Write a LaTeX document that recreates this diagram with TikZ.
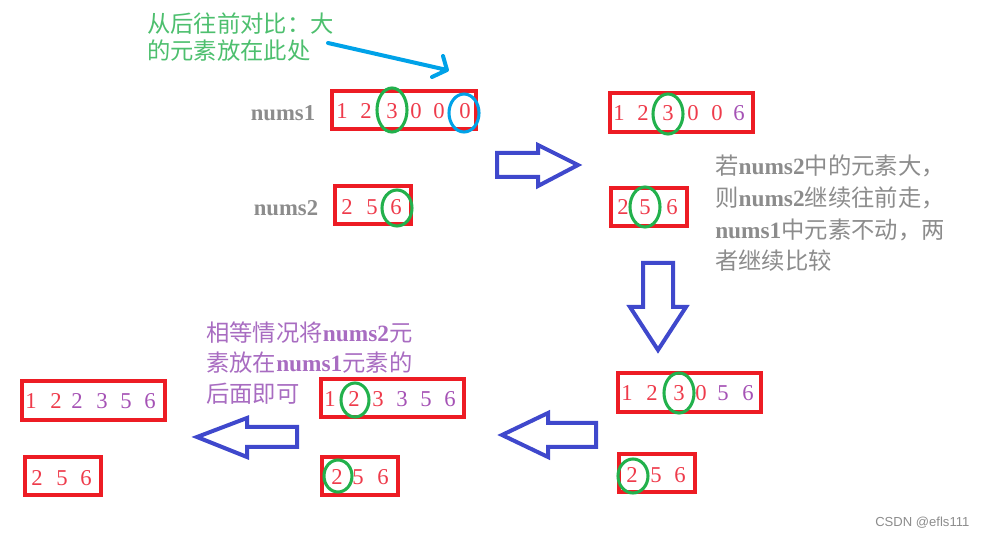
\documentclass[tikz,border=0pt]{standalone}
\usepackage{fontspec}
\setmainfont{Liberation Serif}
\newfontfamily\cjk{Noto Sans CJK SC}
\newfontfamily\wmfont{Liberation Sans}
\definecolor{boxred}{HTML}{ED1C24}
\definecolor{digred}{HTML}{EE3B4B}
\definecolor{digpur}{HTML}{A552B5}
\definecolor{ringgreen}{HTML}{22B14C}
\definecolor{ringblue}{HTML}{00A2E8}
\definecolor{arrblue}{HTML}{3F48CC}
\definecolor{txtgray}{HTML}{8C8C8C}
\definecolor{txtgreen}{HTML}{4DBF6E}
\definecolor{txtpur}{HTML}{A86CC1}
\tikzset{
  longbox/.style={draw=boxred, line width=3pt, minimum width=107.5pt, minimum height=29pt, inner sep=0pt},
  shortbox/.style={draw=boxred, line width=3pt, minimum width=57pt, minimum height=28.5pt, inner sep=0pt},
  dr/.style={text=digred, font=\fontsize{17}{18}\selectfont, inner sep=0pt},
  dp/.style={text=digpur, font=\fontsize{17}{18}\selectfont, inner sep=0pt},
  ring/.style={draw=ringgreen, line width=2.3pt},
  blockarrow/.style={draw=arrblue, line width=3pt, line join=miter},
  lbl/.style={text=txtgray, font=\fontsize{17}{18}\selectfont\bfseries, inner sep=0pt},
  ttl/.style={anchor=west, inner sep=0pt, font=\fontsize{17.5}{20}\selectfont},
}
\begin{document}
\begin{tikzpicture}[x=0.75pt, y=-0.75pt]
\useasboundingbox (0,0) rectangle (983,538);
% boxes
\node[longbox] (a1) at (404,110) {};
\node[shortbox] (a2) at (373,205.5) {};
\node[longbox] (b1) at (681.5,112.5) {};
\node[shortbox] (b2) at (648.5,207) {};
\node[longbox] (c1) at (689.5,392.5) {};
\node[shortbox] (c2) at (657,473) {};
\node[longbox] (d1) at (392.5,398) {};
\node[shortbox] (d2) at (359.5,476) {};
\node[longbox] (e1) at (93.5,400.5) {};
\node[shortbox] (e2) at (63,476.5) {};
% labels
\node[lbl] (l1) at (283,113) {nums1};
\node[lbl] (l2) at (286,208) {nums2};
% digits a1
\node[dr] (a11) at (342,111) {1};
\node[dr] (a12) at (366,111) {2};
\node[dr] (a13) at (392,111) {3};
\node[dr] (a14) at (416,111) {0};
\node[dr] (a15) at (439,111) {0};
\node[dr] (a16) at (465,111) {0};
% a2
\node[dr] (a21) at (347,207) {2};
\node[dr] (a22) at (372,207) {5};
\node[dr] (a23) at (396,207) {6};
% b1
\node[dr] (b11) at (619,113) {1};
\node[dr] (b12) at (643,113) {2};
\node[dr] (b13) at (668,113) {3};
\node[dr] (b14) at (693,113) {0};
\node[dr] (b15) at (717,113) {0};
\node[dp] (b16) at (739,113) {6};
% b2
\node[dr] (b21) at (623,207) {2};
\node[dr] (b22) at (645,207) {5};
\node[dr] (b23) at (672,207) {6};
% c1
\node[dr] (c11) at (627,393) {1};
\node[dr] (c12) at (652,393) {2};
\node[dr] (c13) at (679,393) {3};
\node[dr] (c14) at (701,393) {0};
\node[dp] (c15) at (723,393) {5};
\node[dp] (c16) at (748,393) {6};
% c2
\node[dr] (c21) at (632,475) {2};
\node[dr] (c22) at (656,475) {5};
\node[dr] (c23) at (680,475) {6};
% d1
\node[dr] (d11) at (330,399) {1};
\node[dr] (d12) at (354,399) {2};
\node[dr] (d13) at (378,399) {3};
\node[dp] (d14) at (402,399) {3};
\node[dp] (d15) at (426,399) {5};
\node[dp] (d16) at (450,399) {6};
% d2
\node[dr] (d21) at (337,477) {2};
\node[dr] (d22) at (358,477) {5};
\node[dr] (d23) at (383,477) {6};
% e1
\node[dr] (e11) at (31,401) {1};
\node[dr] (e12) at (56,401) {2};
\node[dp] (e13) at (77,401) {2};
\node[dp] (e14) at (102,401) {3};
\node[dp] (e15) at (126,401) {5};
\node[dp] (e16) at (150,401) {6};
% e2
\node[dr] (e21) at (37,478) {2};
\node[dr] (e22) at (62,478) {5};
\node[dr] (e23) at (86,478) {6};
% rings
\draw[ring] (392,110) ellipse [x radius=11.25pt, y radius=16.5pt];
\draw[ringblue, line width=2.3pt] (464,113) ellipse [x radius=11.25pt, y radius=14.25pt];
\draw[ring] (397,208) ellipse [x radius=11.25pt, y radius=13.5pt];
\draw[ring] (668,114) ellipse [x radius=11.25pt, y radius=15pt];
\draw[ring] (645,207) ellipse [x radius=11.25pt, y radius=15pt];
\draw[ring] (679,393) ellipse [x radius=11.25pt, y radius=15pt];
\draw[ring] (633,476) ellipse [x radius=11.25pt, y radius=12.75pt];
\draw[ring] (355,400) ellipse [x radius=10.5pt, y radius=12.75pt];
\draw[ring] (338,476) ellipse [x radius=10.5pt, y radius=12pt];
% block arrows
\draw[blockarrow] (497,153) -- (538,153) -- (538,145) -- (578,165) -- (538,186) -- (538,177) -- (497,177) -- cycle;
\draw[blockarrow] (643,263) -- (673,263) -- (673,307) -- (686,307) -- (658,350) -- (630,307) -- (643,307) -- cycle;
\draw[blockarrow] (596,423) -- (548,423) -- (548,413) -- (502,435) -- (548,457) -- (548,447) -- (596,447) -- cycle;
\draw[blockarrow] (297,427) -- (247,427) -- (247,418) -- (197,437) -- (247,457) -- (247,447) -- (297,447) -- cycle;
% green note with blue pointer
\node[ttl, text=txtgreen] (g1) at (147,24) {\cjk 从后往前对比：大};
\node[ttl, text=txtgreen] (g2) at (147,51) {\cjk 的元素放在此处};
\coordinate (ps) at (328,43);
\coordinate (pt) at (447,70);
\draw[ringblue, line width=3pt, line cap=round, line join=round] (ps) -- (pt) (443,56) -- (pt) -- (432,77);
% gray note
\node[ttl, text=txtgray] (t1) at (715,166) {{\cjk 若}\textbf{nums2}{\cjk 中的元素大，}};
\node[ttl, text=txtgray] (t2) at (715,198) {{\cjk 则}\textbf{nums2}{\cjk 继续往前走，}};
\node[ttl, text=txtgray] (t3) at (715,230) {\textbf{nums1}{\cjk 中元素不动，两}};
\node[ttl, text=txtgray] (t4) at (715,261) {\cjk 者继续比较};
% purple note
\node[ttl, text=txtpur] (p1) at (206,333) {{\cjk 相等情况将}\textbf{nums2}{\cjk 元}};
\node[ttl, text=txtpur] (p2) at (206,363) {{\cjk 素放在}\textbf{nums1}{\cjk 元素的}};
\node[ttl, text=txtpur] (p3) at (206,394) {\cjk 后面即可};
% watermark
\node[anchor=west, inner sep=0pt, text=black!45, font=\wmfont\fontsize{9.8}{11}\selectfont] (wm) at (875,523) {CSDN @efls111};
\end{tikzpicture}
\end{document}
